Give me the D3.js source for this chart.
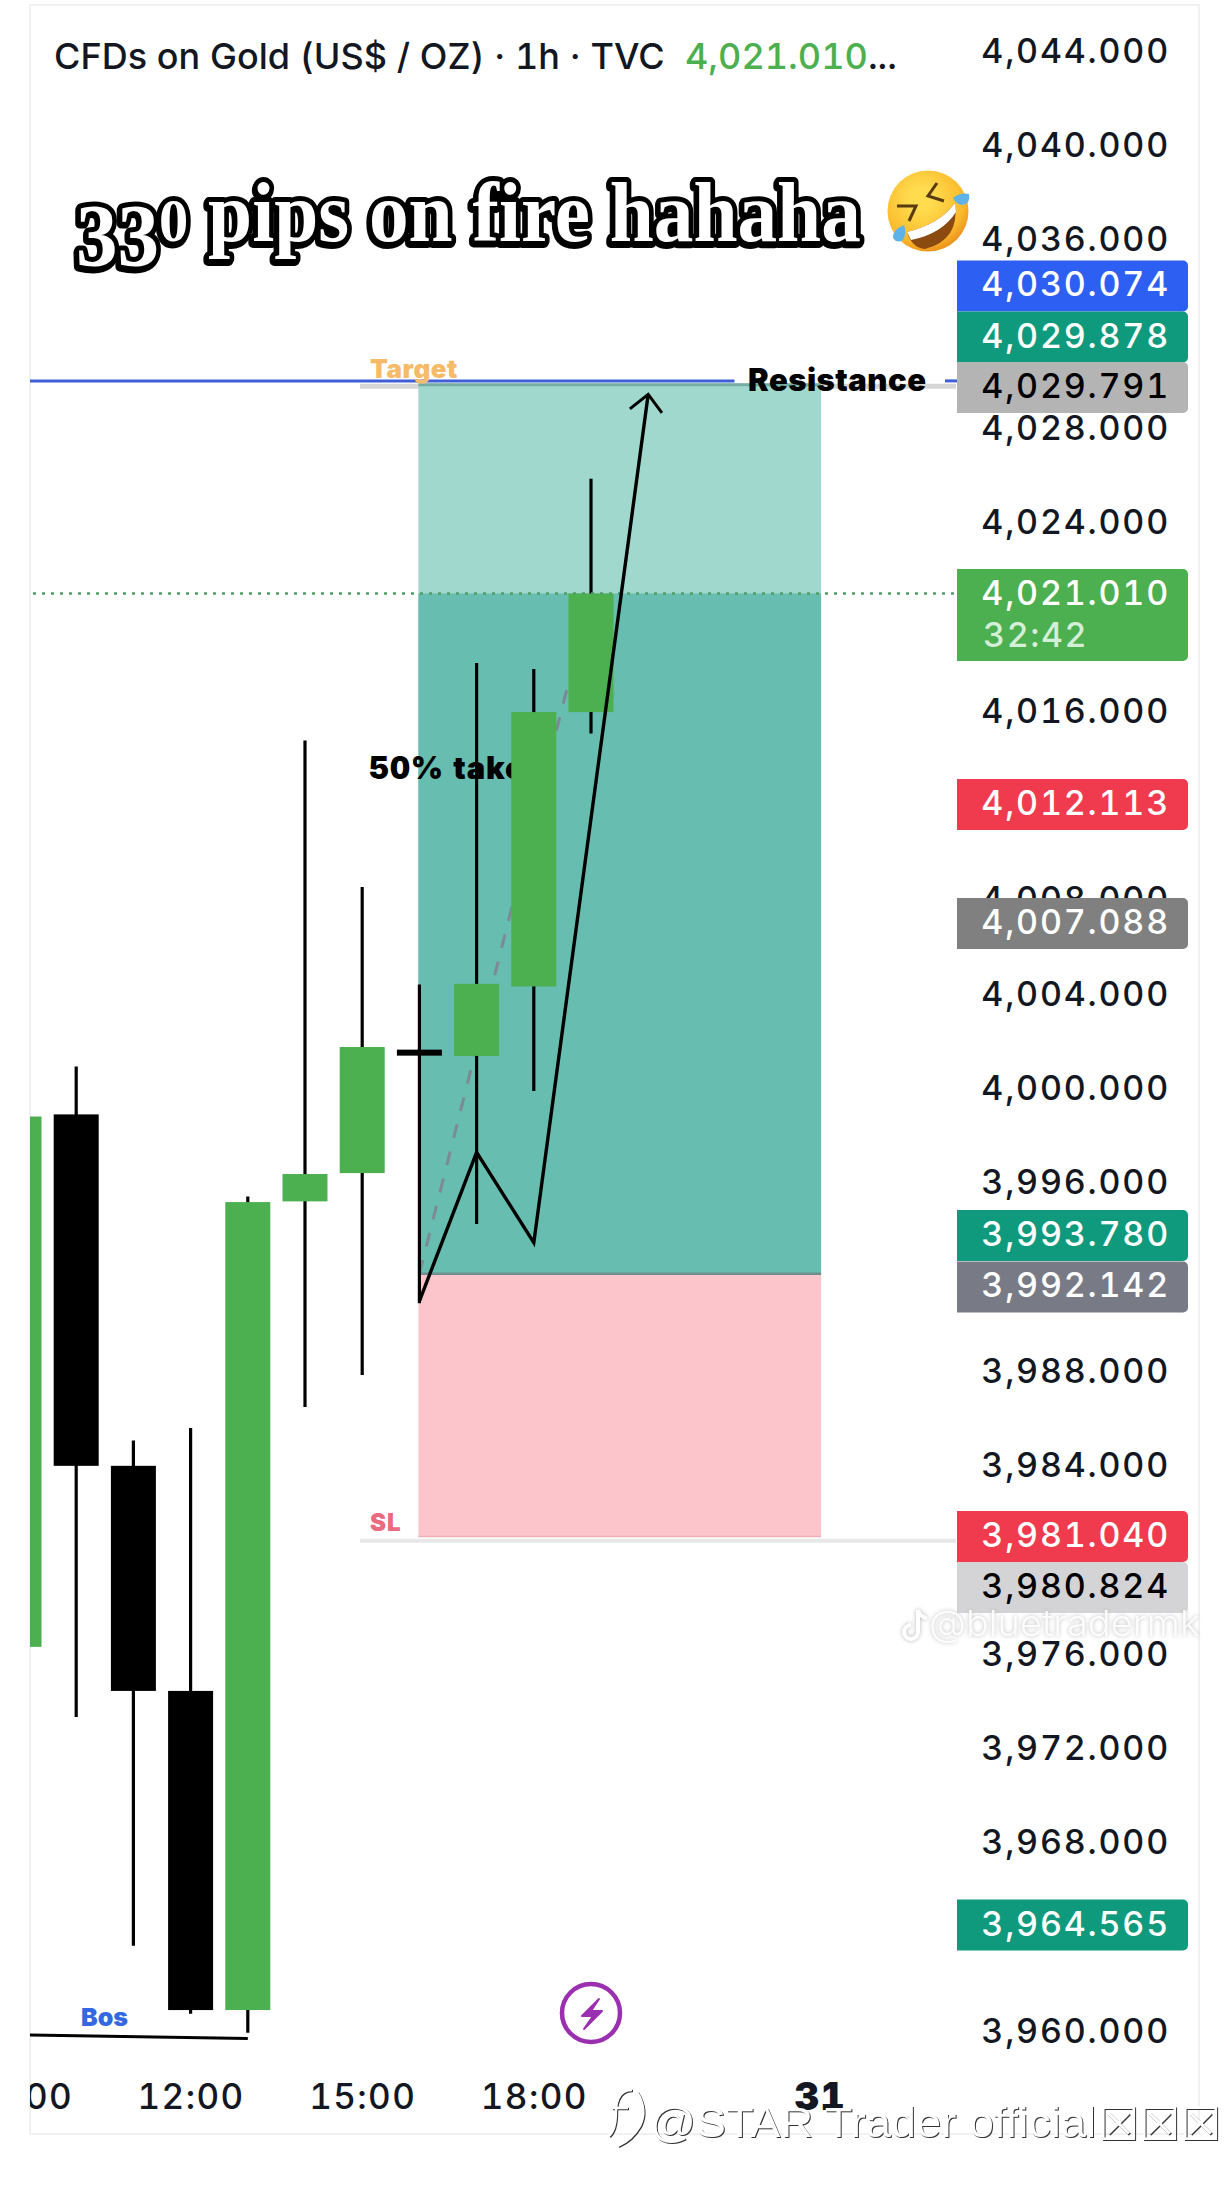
<!DOCTYPE html>
<html><head><meta charset="utf-8">
<script src="https://cdn.jsdelivr.net/npm/d3@7/dist/d3.min.js"></script>
<style>
html,body{margin:0;padding:0;background:#fff}
svg{display:block}
text{font-family:Inter,"Noto Sans",sans-serif;font-feature-settings:"tnum" 1}
</style></head><body><div id="chart"></div>
<script>
// ---- data ----
const hours  = [0,1,2,3,4,5,6,7,8,9,10];
const opens  = [3976.20,3998.79,3983.88,3974.33,3960.79,3995.10,3996.30,4001.41,4001.27,4004.22,4015.86];
const closes = [3998.70,3983.88,3974.33,3960.79,3995.07,3996.26,4001.65,4001.41,4004.33,4015.86,4020.89];
const highs  = [3998.70,4000.82,3984.95,3985.48,3995.31,4014.65,4008.44,4004.30,4017.94,4017.69,4025.76];
const lows   = [3976.20,3973.22,3963.52,3960.63,3959.83,3986.38,3987.73,3990.78,3994.14,3999.78,4014.95];
const downFlags = [false,true,true,true,false,false,false,true,false,false,false];

const priceTicks = [4044,4040,4036,4032,4028,4024,4020,4016,4012,4008,4004,4000,3996,3992,3988,3984,3980,3976,3972,3968,3964,3960];
const hiddenTicks = [4032,4020,3992,3980,3964];
const timeTicks = [0,3,6,9,14];
const timeLabels = ["09:00","12:00","15:00","18:00","31"];

const tagLabels = ["4,030.074","4,029.878","4,029.791","4,021.010","4,012.113","4,007.088","3,993.780","3,992.142","3,981.040","3,980.824","3,964.565"];
const tagLevels = [4033.94,4031.77,4029.63,4020.87,4011.94,4006.89,3993.65,3991.47,3980.88,3978.72,3964.40];
const tagFills  = ["#2e5ff3","#0f9a7e","#b4b4b4","#4caf50","#f03a4d","#808080","#0f9a7e","#787b86","#f03a4d","#d4d4d6","#0f9a7e"];
const tagInks   = ["#fff","#fff","#000","#fff","#fff","#fff","#fff","#fff","#fff","#000","#fff"];
const countdown = "32:42";

const boxStart = 7, boxEnd = 14.04;
const targetPrice = 4029.79, currentPrice = 4020.89, entryPrice = 3992.03, stopPrice = 3980.88;
const targetGrey = 4029.68, stopGrey = 3980.70, resistance = 4029.91;
const zigIdx   = [7,8,9,11];
const zigPrice = [3990.87,3997.18,3993.35,4029.34];
const headIdx   = [10.68,11,11.24];
const headPrice = [4028.72,4029.34,4028.55];
const dashIdx   = [7,10];
const dashPrice = [3992.03,4020.89];
const bosIdx   = [0.19,4];
const bosPrice = [3959.73,3959.58];

// ---- layout ----
const W=1230,H=2186;
const x=d3.scaleLinear().domain([0,10]).range([19,591]);
const y=d3.scaleLinear().domain([4044,3960]).range([48.8,2028.68]);
const bodyW=45, plotL=30, plotR=1199, plotB=2134;
const svg=d3.select("#chart").append("svg").attr("width",W).attr("height",H).attr("viewBox",[0,0,W,H]);
const defs=svg.append("defs");
defs.append("clipPath").attr("id","plot").append("rect").attr("x",plotL).attr("y",0).attr("width",plotR-plotL).attr("height",H);

// frame
svg.append("path").attr("d",`M${plotL},${plotB}V5H${plotR}V${plotB}H${plotL}`).attr("fill","none").attr("stroke","#f1f1f4").attr("stroke-width",2);

const plot=svg.append("g").attr("clip-path","url(#plot)");

// horizontal levels
const hl=(a,b,p,c,w)=>plot.append("line").attr("x1",a).attr("x2",b).attr("y1",y(p)).attr("y2",y(p)).attr("stroke",c).attr("stroke-width",w);
hl(360,956,targetGrey,"#d6d6d6",5);
hl(360,956,stopGrey,"#e8e8ea",4);

// position box
const bx=x(boxStart)-1,bw=x(boxEnd)-x(boxStart);
plot.append("rect").attr("x",bx).attr("y",y(targetPrice)).attr("width",bw).attr("height",y(entryPrice)-y(targetPrice)).attr("fill","#a0d8cd");
plot.append("rect").attr("x",bx).attr("y",y(currentPrice)).attr("width",bw).attr("height",y(entryPrice)-y(currentPrice)).attr("fill","#66bdb0");
plot.append("rect").attr("x",bx).attr("y",y(entryPrice)).attr("width",bw).attr("height",y(stopPrice)-y(entryPrice)).attr("fill","#fcc5cb");
plot.append("line").attr("x1",bx).attr("x2",bx+bw).attr("y1",y(entryPrice)).attr("y2",y(entryPrice)).attr("stroke","#6f8f8c").attr("stroke-width",2.5);
plot.append("line").attr("x1",bx).attr("x2",bx+bw).attr("y1",y(targetPrice)+1).attr("y2",y(targetPrice)+1).attr("stroke","#74ada3").attr("stroke-width",3);
plot.append("line").attr("x1",bx).attr("x2",bx+bw).attr("y1",y(stopPrice)).attr("y2",y(stopPrice)).attr("stroke","#f2aeb6").attr("stroke-width",1.5);

// blue resistance level
hl(plotL,734.5,resistance,"#3f5fd8",3);
hl(945,957,resistance,"#3f5fd8",3);

// labels under candles
const lab=(g,t,xp,yp,size,weight,fill,extra)=>{const s=g.append("text").attr("x",xp).attr("y",yp).attr("dy","0.36em").attr("font-size",size).attr("font-weight",weight).attr("fill",fill).text(t);if(extra)extra(s);return s;};
lab(plot,"Target",370,368.5,26,900,"#f5bb68",s=>s.attr("letter-spacing",0.5));
lab(plot,"50% take",369,767.5,31,900,"#000",s=>s.attr("letter-spacing",0.9));
lab(plot,"SL",370,1522.5,24,900,"#ec6a80",s=>s.attr("letter-spacing",1));
lab(plot,"Bos",81,2017,25,900,"#3568e0");

// dashed projection
const idxLine=d3.line().x(d=>x(d[0])).y(d=>y(d[1]));
plot.append("path").datum(d3.zip(dashIdx,dashPrice)).attr("d",idxLine).attr("fill","none").attr("stroke","#7d8a95").attr("stroke-width",3).attr("stroke-dasharray","14 14");

// candles
const candles=plot.selectAll("g.c").data(hours).join("g").attr("class","c");
candles.filter(i=>highs[i]!==lows[i]&&i>0).append("line")
 .attr("x1",i=>x(i)).attr("x2",i=>x(i)).attr("y1",i=>y(highs[i])).attr("y2",i=>y(lows[i]))
 .attr("stroke","#000").attr("stroke-width",3.2);
candles.append("rect")
 .attr("x",i=>x(i)-bodyW/2).attr("width",bodyW)
 .attr("y",i=>opens[i]===closes[i]?y(opens[i])-3:y(Math.max(opens[i],closes[i])))
 .attr("height",i=>opens[i]===closes[i]?6:Math.abs(y(opens[i])-y(closes[i])))
 .attr("fill",i=>downFlags[i]?"#000":"#4caf50");

// current price dotted line
plot.append("line").attr("x1",plotL+3).attr("x2",957).attr("y1",y(currentPrice)).attr("y2",y(currentPrice)).attr("stroke","#4f9f63").attr("stroke-width",2.5).attr("stroke-dasharray","3 6");

// hand drawn path
plot.append("path").datum(d3.zip(zigIdx,zigPrice)).attr("d",idxLine).attr("fill","none").attr("stroke","#000").attr("stroke-width",3.4).attr("stroke-linejoin","miter");
plot.append("path").datum(d3.zip(headIdx,headPrice)).attr("d",idxLine).attr("fill","none").attr("stroke","#000").attr("stroke-width",3);
plot.append("path").datum(d3.zip(bosIdx,bosPrice)).attr("d",idxLine).attr("fill","none").attr("stroke","#000").attr("stroke-width",3);

// resistance label
lab(svg,"Resistance",748,380,31,900,"#000",s=>s.attr("letter-spacing",0.5));

// axes
const yAxis=d3.axisRight(y).tickValues(priceTicks.filter(t=>!hiddenTicks.includes(t))).tickFormat(d3.format(",.3f")).tickSize(0).tickPadding(0);
const ya=svg.append("g").attr("transform","translate(1170,0)").call(yAxis);
ya.select(".domain").remove();
ya.selectAll("text").attr("x",0).attr("dy","0.4em").attr("text-anchor","end").attr("font-size",34).attr("font-family","Inter").attr("font-weight",500).attr("fill","#131722").attr("letter-spacing",1.8);

const xAxis=d3.axisBottom(x).tickValues(timeTicks).tickFormat((d,i)=>timeLabels[i]).tickSize(0).tickPadding(0);
const xa=plot.append("g").attr("transform","translate(0,2096)").call(xAxis);
xa.select(".domain").remove();
xa.selectAll("text").attr("y",0).attr("dy","0.36em").attr("font-size",d=>d===14?38:35).attr("font-family","Inter").attr("font-weight",d=>d===14?900:500).attr("fill","#131722").attr("letter-spacing",1.4);

// price tags
const tagH=51,tagX=957,tagW=231,r=5;
const tagPath=(top,h)=>`M${tagX},${top}H${tagX+tagW-r}a${r},${r} 0 0 1 ${r},${r}V${top+h-r}a${r},${r} 0 0 1 -${r},${r}H${tagX}Z`;
const tags=svg.selectAll("g.tag").data(tagLabels).join("g").attr("class","tag");
tags.append("path").attr("d",(d,i)=>{
  const c=y(tagLevels[i]);
  return d==="4,021.010"?tagPath(c-25,92):tagPath(c-tagH/2,tagH);
}).attr("fill",(d,i)=>tagFills[i]);
tags.append("text").attr("x",1170).attr("text-anchor","end").attr("y",(d,i)=>y(tagLevels[i])).attr("dy","0.31em")
 .attr("font-size",34).attr("font-weight",500).attr("letter-spacing",1.8).attr("fill",(d,i)=>tagInks[i]).text(d=>d);
lab(svg,countdown,983,y(currentPrice)+41,34,500,"#d5eed7",s=>s.attr("letter-spacing",1.6));

// header
const head=svg.append("text").attr("x",54).attr("y",56).attr("dy","0.36em").attr("font-size",36).attr("font-weight",500).attr("fill","#131722").attr("letter-spacing",0.03);
head.append("tspan").text("CFDs on Gold (US$ / OZ) · 1h · TVC");
head.append("tspan").attr("x",685).attr("fill","#4caf50").text("4,021.010");
head.append("tspan").text("...");

// title
const title=svg.append("text").attr("x",0).attr("y",0)
 .style("font-family","'Liberation Serif',serif").style("font-feature-settings","normal").attr("font-weight",700).attr("fill","#fff")
 .attr("stroke","#000").attr("stroke-width",10).attr("stroke-linejoin","round").style("paint-order","stroke")
 .style("filter","drop-shadow(-1px 2px 0 #000)");
title.append("tspan").attr("font-size",88).attr("dy",24).text("33");
title.append("tspan").attr("font-size",62).attr("dy",-24).text("0");
title.append("tspan").attr("font-size",84).text(" pips on fire hahaha");
const tw=title.node().getComputedTextLength();
title.attr("transform",`translate(76,241) scale(${785/tw},1)`);

// emoji, drawn
const g0=defs.append("radialGradient").attr("id","face").attr("cx","0.42").attr("cy","0.35").attr("r","0.7");
g0.append("stop").attr("offset","0.2").attr("stop-color","#ffdc4e");
g0.append("stop").attr("offset","0.75").attr("stop-color","#fbb92c");
g0.append("stop").attr("offset","1").attr("stop-color","#e98a1a");
const em=svg.append("g");
em.append("circle").attr("cx",928).attr("cy",211).attr("r",40.5).attr("fill","url(#face)");
em.append("path").attr("d","M907,232 Q940,224 955,203 Q960,240 925,249 Q912,248 907,232Z").attr("fill","#8a4a10");
em.append("path").attr("d","M907,232 Q940,224 955,203 L956,212 Q942,234 911,240Z").attr("fill","#fff");
em.append("path").attr("d","M937,183 L928,196 L944,201").attr("fill","none").attr("stroke","#5a3a12").attr("stroke-width",3);
em.append("path").attr("d","M897,206 L916,206 L909,221").attr("fill","none").attr("stroke","#5a3a12").attr("stroke-width",3);
em.append("path").attr("d","M953,198 Q960,192 969,194 Q971,204 962,205 Q956,204 953,198Z").attr("fill","#5fb2e6");
em.append("path").attr("d","M893,238 Q892,230 904,225 Q907,234 903,240 Q897,244 893,238Z").attr("fill","#5fb2e6");

// lightning icon
const ic=svg.append("g").attr("transform","translate(591,2013)");
ic.append("circle").attr("r",29).attr("fill","none").attr("stroke","#9a2fb0").attr("stroke-width",4.5);
ic.append("path").attr("d","M8,-14 L-9,3 L2,3 L-7,16 L11,-2 L0,-2Z").attr("fill","#9a2fb0").attr("stroke","#9a2fb0").attr("stroke-width",2).attr("stroke-linejoin","round");

// watermarks
const wm=svg.append("g").style("filter","drop-shadow(0 0 2px #b5b5b5)");
wm.append("path").attr("d","M918,1610 V1632 a7,7 0 1 1 -7,-7 M918,1610 q2,7 9,8").attr("fill","none").attr("stroke","#fff").attr("stroke-width",4);
wm.append("text").attr("x",929).attr("y",1623).attr("dy","0.36em").attr("font-size",36).attr("font-weight",300).attr("fill","#fff").attr("fill-opacity",0.9)
 .attr("textLength",271).attr("lengthAdjust","spacingAndGlyphs").text("@bluetradermk");

const st=svg.append("g").style("filter","drop-shadow(1px 1px 0 #333)");
st.append("path").attr("d","M632,2090 Q616,2090 616,2112 Q616,2130 609,2136 M612,2108 L628,2108 M637,2092 Q648,2110 640,2126 Q632,2140 618,2146").attr("fill","none").attr("stroke","#fff").attr("stroke-width",2.4);
st.append("text").attr("x",650).attr("y",2122).attr("dy","0.36em").attr("font-size",42).style("font-family","'Liberation Sans',sans-serif").attr("fill","#fff")
 .attr("textLength",446).attr("lengthAdjust","spacingAndGlyphs").text("@STAR Trader official");
[1098,1139,1180].forEach(px=>st.append("text").attr("x",px).attr("y",2123).attr("dy","0.36em").attr("font-size",46).style("font-family","'DejaVu Sans'").attr("fill","#fff").text("\u2612"));
</script></body></html>
